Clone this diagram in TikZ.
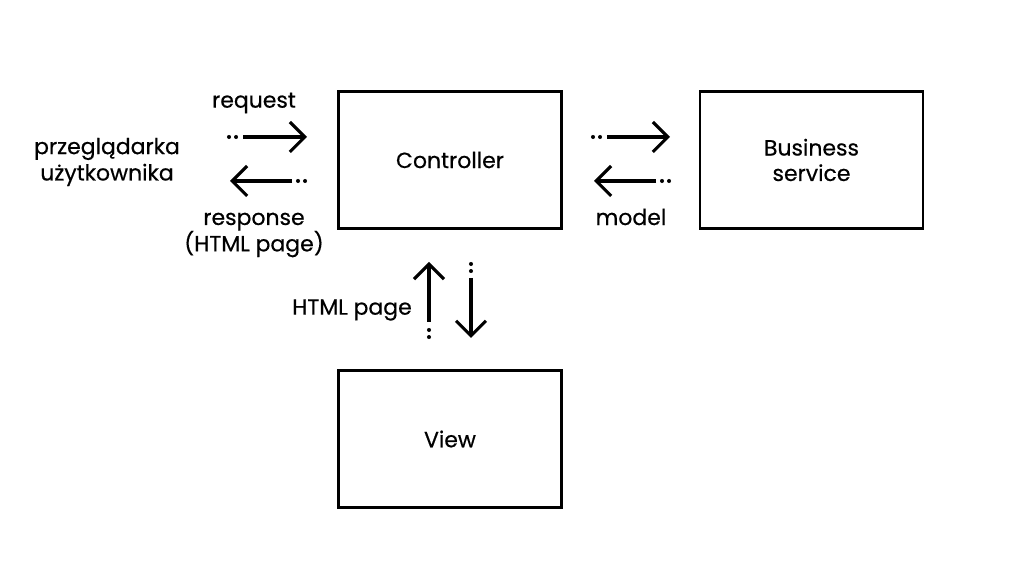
\documentclass[tikz,border=0pt]{standalone}
\usepackage{fontspec}
\setmainfont{Poppins}[UprightFeatures={FakeBold=0.5}]
\usetikzlibrary{arrows.meta,positioning}
\begin{document}
\begin{tikzpicture}[x=0.02cm,y=-0.02cm]
        % Define styles
        \tikzset{
            block/.style={draw, line width=1.2pt, minimum width=4.46cm, minimum height=2.74cm, align=center, font=\fontsize{12.5}{14.5}\selectfont},
            flow/.style={-{Straight Barb[length=8.5pt,width=17pt,line width=1.8pt]}, line width=1.8pt},
            tail/.style={line width=2.3pt, line cap=round, dash pattern=on 0pt off 4pt},
            label/.style={align=center, font=\fontsize{12.5}{15}\selectfont}
        }
        \useasboundingbox (0,0) rectangle (1019,580);
        % Boxes
        \node[block] (ctrl) at (450,160) {Controller};
        \node[block] (biz) at (811.5,160) {Business\\service};
        \node[block] (view) at (450,439) {View};
        % Labels
        \node[label] (browser) at (107,162) {przeglądarka\\użytkownika};
        \node[label] (req) at (254,103) {request};
        \node[label] (resp) at (254,235) {response\\(HTML page)};
        \node[label] (model) at (631,217) {model};
        \node[label] (page) at (352,310) {HTML page};
        % Browser <-> controller
        \coordinate (reqA) at (243,137); \coordinate (reqB) at (307,137);
        \draw[tail] (229,137) -- (237,137);
        \draw[flow] (reqA) -- (reqB);
        \coordinate (respA) at (292,181); \coordinate (respB) at (230,181);
        \draw[tail] (298,181) -- (306,181);
        \draw[flow] (respA) -- (respB);
        % Controller <-> business service
        \coordinate (callA) at (607,137); \coordinate (callB) at (670,137);
        \draw[tail] (593,137) -- (601,137);
        \draw[flow] (callA) -- (callB);
        \coordinate (backA) at (656,181); \coordinate (backB) at (594,181);
        \draw[tail] (662,181) -- (670,181);
        \draw[flow] (backA) -- (backB);
        % Controller <-> view
        \coordinate (upA) at (429,322); \coordinate (upB) at (429,262);
        \draw[tail] (429,330) -- (429,338);
        \draw[flow] (upA) -- (upB);
        \coordinate (downA) at (471,278); \coordinate (downB) at (471,338);
        \draw[tail] (471,264) -- (471,272);
        \draw[flow] (downA) -- (downB);
    \end{tikzpicture}
\end{document}
